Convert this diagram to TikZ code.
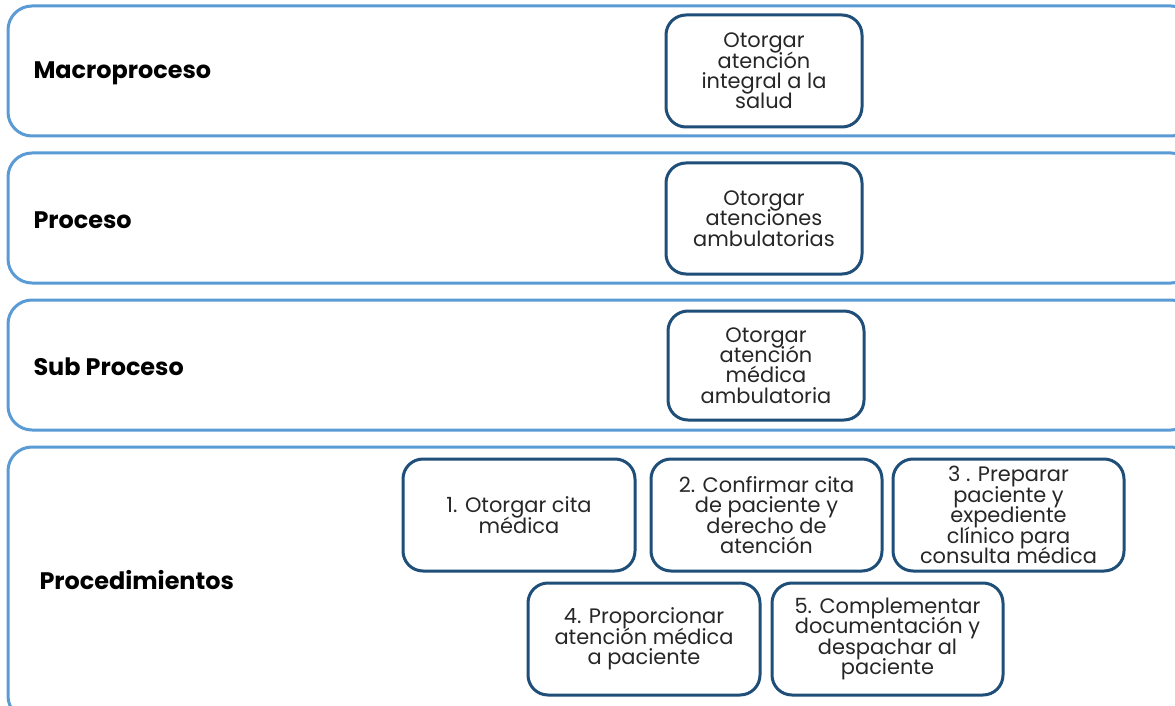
\documentclass[tikz,border=0pt]{standalone}
\usepackage{fontspec}
\setmainfont{Poppins}
\definecolor{bandblue}{HTML}{5B9BD5}
\definecolor{boxblue}{HTML}{1F4E79}
\newcommand\stepfont{\fontsize{21}{20.5}\selectfont\lineskiplimit=-20bp\relax\lineskip=0bp\relax}
\tikzset{
  band/.style={draw=bandblue, line width=3bp, rounded corners=24bp},
  bandlabel/.style={anchor=west, font=\fontsize{24}{28}\selectfont\bfseries, text=black},
  stepbox/.style={draw=boxblue, line width=3bp, rounded corners=20bp, fill=white,
    align=center, inner sep=0pt, text=black!85, font=\stepfont},
}
\begin{document}
\begin{tikzpicture}[x=1bp,y=-1bp]
\useasboundingbox (0,0) rectangle (1175,706);
\fill[white] (0,0) rectangle (1175,706);
\begin{scope}
\clip (0,0) rectangle (1175,706);
% horizontal bands
\draw[band] (8,6) rectangle (1195,136);
\draw[band] (8,153) rectangle (1195,283);
\draw[band] (8,300) rectangle (1195,430);
\draw[band] (8,447) rectangle (1195,720);
\end{scope}
% band titles
\node[bandlabel] (lmacro) at (30,73) {Macroproceso};
\node[bandlabel] (lproc) at (30,220) {Proceso};
\node[bandlabel] (lsub) at (30,367) {Sub Proceso};
\node[bandlabel] (lproced) at (36,580) {Procedimientos};
% hierarchy boxes
\node[stepbox, minimum width=196bp, minimum height=112bp] (macro) at (764,71)
  {Otorgar\\atención\\integral a la\\salud};
\node[stepbox, minimum width=196bp, minimum height=111bp] (proc) at (764,218.5)
  {Otorgar\\atenciones\\ambulatorias};
\node[stepbox, minimum width=196bp, minimum height=109bp] (sub) at (766,365.5)
  {Otorgar\\atención\\médica\\ambulatoria};
% procedures
\node[stepbox, minimum width=232bp, minimum height=112bp] (p1) at (519,515)
  {1. Otorgar cita\\médica};
\node[stepbox, minimum width=231bp, minimum height=112bp] (p2) at (766.5,515)
  {2. Confirmar cita\\de paciente y\\derecho de\\atención};
\node[stepbox, minimum width=231bp, minimum height=112bp] (p3) at (1008.5,515)
  {3 . Preparar\\paciente y\\expediente\\clínico para\\consulta médica};
\node[stepbox, minimum width=232bp, minimum height=112bp] (p4) at (644,639)
  {4. Proporcionar\\atención médica\\a paciente};
\node[stepbox, minimum width=231bp, minimum height=112bp] (p5) at (887.5,639)
  {5. Complementar\\documentación y\\despachar al\\paciente};
\end{tikzpicture}
\end{document}
